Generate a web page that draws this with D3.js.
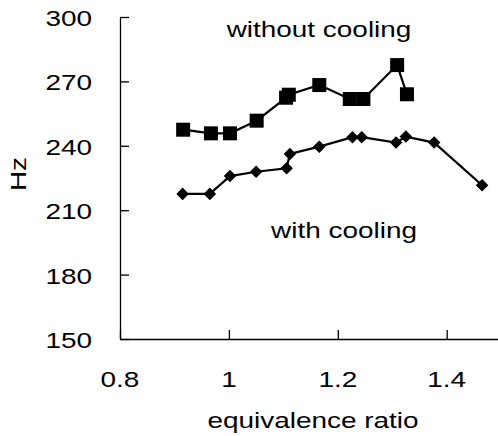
<!DOCTYPE html>
<html>
<head>
<meta charset="utf-8">
<script src="https://cdn.jsdelivr.net/npm/d3@7"></script>
<style>
  body { margin: 0; background: #fff; }
  text { font-family: "Liberation Sans", Arial, sans-serif; fill: #000; font-size: 22px; }
</style>
</head>
<body>
<div id="chart"></div>
<script>
// equivalence ratio vs frequency (Hz)
var withoutX = [0.916, 0.967, 1.002, 1.051, 1.105, 1.110, 1.166, 1.222, 1.247, 1.309, 1.327];
var withoutY = [247.5, 245.8, 245.8, 251.7, 262.4, 263.8, 268.3, 261.8, 261.8, 277.6, 264.0];
var withX = [0.915, 0.965, 1.002, 1.050, 1.106, 1.112, 1.166, 1.227, 1.244, 1.307, 1.325, 1.377, 1.465];
var withY = [217.6, 217.6, 225.9, 227.9, 229.5, 236.2, 239.6, 244.0, 244.0, 241.5, 244.3, 241.5, 221.6];
var xTicks = [0.8, 1, 1.2, 1.4];
var yTicks = [150, 180, 210, 240, 270, 300];

var width = 498,
    height = 436,
    margin = {top: 17, right: 0, bottom: 97, left: 120},
    wide = 1.27;   // the original font is a wide one, stretch glyphs sideways

var svg = d3.select('#chart')
    .append('svg')
    .attr('width', width)
    .attr('height', height);

var x = d3.scaleLinear().domain([0.8, 1.5]).range([margin.left, margin.left + 544.5 * 0.7]);
var y = d3.scaleLinear().domain([150, 300]).range([height - margin.bottom, margin.top]);

// axes, ticks pointing inward
var xAxis = d3.axisTop(x).tickValues(xTicks).tickSize(9).tickSizeOuter(0).tickFormat('');
var yAxis = d3.axisRight(y).tickValues(yTicks).tickSize(9).tickSizeOuter(0).tickFormat('');

svg.append('g')
    .attr('class', 'x axis')
    .attr('transform', `translate(0,${y(150)})`)
    .call(xAxis);

svg.append('g')
    .attr('class', 'y axis')
    .attr('transform', `translate(${margin.left},0)`)
    .call(yAxis);

svg.selectAll('.axis path, .axis line')
    .attr('stroke', '#000')
    .attr('stroke-width', 1.3);

function label(tx, ty, txt, anchor, rot) {
    return svg.append('text')
        .attr('transform', `translate(${tx},${ty})` + (rot ? ` rotate(${rot})` : '') + ` scale(${wide},1)`)
        .attr('text-anchor', anchor || 'middle')
        .text(txt);
}

// tick labels
yTicks.forEach(function (d) {
    label(92, y(d) + 9, d, 'end');
});
xTicks.forEach(function (d) {
    label(x(d), 387, d === 1 ? '1' : d3.format('.1f')(d));
});

// axis titles
label(313, 428, 'equivalence ratio');
label(26, 174, 'Hz', 'middle', -90);

// series lines
var line = d3.line().x(d => x(d[0])).y(d => y(d[1]));
var withoutData = withoutX.map((v, i) => [v, withoutY[i]]);
var withData = withX.map((v, i) => [v, withY[i]]);

svg.append('path')
    .datum(withoutData)
    .attr('d', line)
    .attr('fill', 'none')
    .attr('stroke', '#000')
    .attr('stroke-width', 2.2);

svg.append('path')
    .datum(withData)
    .attr('d', line)
    .attr('fill', 'none')
    .attr('stroke', '#000')
    .attr('stroke-width', 2.2);

// markers
svg.selectAll('.sq')
    .data(withoutData)
    .enter().append('rect')
    .attr('class', 'sq')
    .attr('x', d => x(d[0]) - 7)
    .attr('y', d => y(d[1]) - 7)
    .attr('width', 14)
    .attr('height', 14)
    .attr('fill', '#000');

svg.selectAll('.dm')
    .data(withData)
    .enter().append('path')
    .attr('class', 'dm')
    .attr('d', d3.symbol().type(d3.symbolDiamond2).size(100))
    .attr('transform', d => `translate(${x(d[0])},${y(d[1])})`)
    .attr('fill', '#000');

// series labels
label(319, 37, 'without cooling');
label(344, 238, 'with cooling');
</script>
</body>
</html>
